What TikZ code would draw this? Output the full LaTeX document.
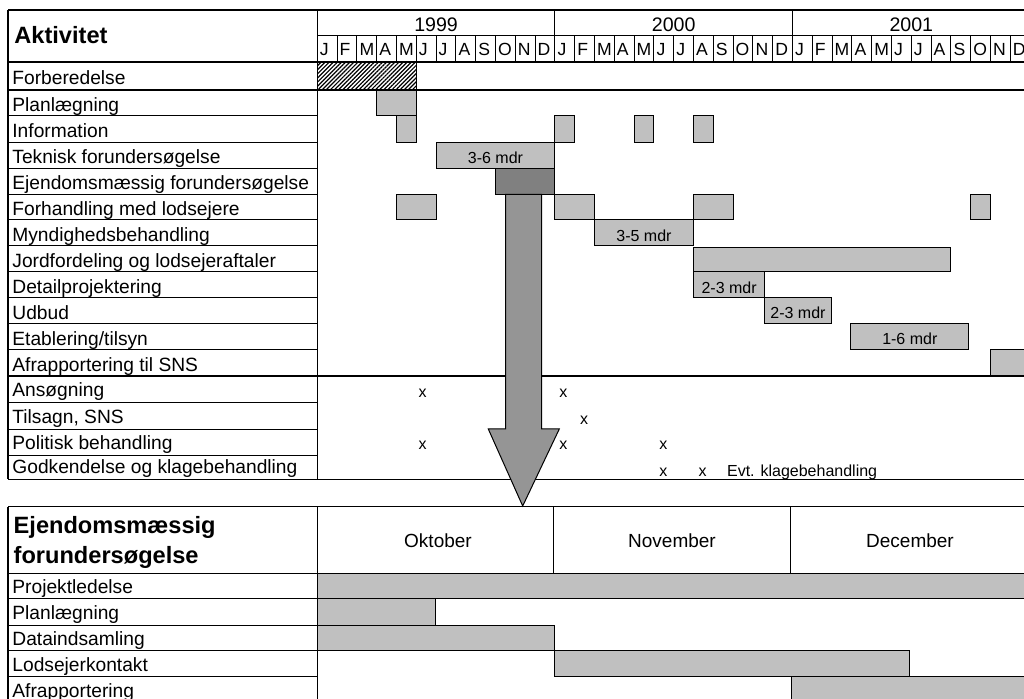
\documentclass[tikz,border=0pt]{standalone}
\usepackage{fontspec}
\setmainfont{Liberation Sans}
\usetikzlibrary{patterns.meta}
\definecolor{ganttbar}{HTML}{C0C0C0}
\definecolor{ganttdark}{HTML}{808080}
\definecolor{ganttarrow}{HTML}{959595}
\tikzset{
  px/.style     ={x=0.5pt, y=-0.5pt},
  rule/.style   ={line width=0.5pt},
  heavy/.style  ={line width=1pt},
  lbl/.style    ={anchor=base west, inner sep=0pt, font=\fontsize{9.6}{11}\selectfont},
  head/.style   ={anchor=base west, inner sep=0pt, font=\fontsize{11.8}{14}\selectfont\bfseries},
  yearlbl/.style={anchor=base, inner sep=0pt, font=\fontsize{9.8}{11}\selectfont},
  mon/.style    ={anchor=base west, inner sep=0pt, font=\fontsize{8.8}{10}\selectfont},
  monlbl/.style ={anchor=base, inner sep=0pt, font=\fontsize{9.5}{11}\selectfont},
  gbar/.style   ={draw=black, line width=0.5pt, fill=ganttbar},
  gdark/.style  ={gbar, fill=ganttdark},
  hatch/.style  ={draw=black, line width=0.5pt,
                  pattern={Lines[angle=45, distance=1.45pt, line width=0.6pt]}},
  blbl/.style   ={anchor=base, inner sep=0pt, font=\fontsize{8}{10}\selectfont},
  xmark/.style  ={anchor=base, inner sep=0pt, font=\fontsize{8}{10}\selectfont},
  note/.style   ={anchor=base west, inner sep=0pt, font=\fontsize{8}{10}\selectfont},
  bigarrow/.style={draw=black, line width=0.5pt, fill=ganttarrow},
}
\newcommand{\mx}[1]{317.3+19.8*(#1)}
\newcommand{\hx}[1]{317.3+118.5*(#1)}
\newcommand{\ganttbar}[7][gbar]{%
  \draw[#1] ({#3},#5) rectangle ({#4},#6);%
  \node[blbl] (#2) at ({((#3)+(#4))/2},#6-4.8) {#7};%
}

\begin{document}
\begin{tikzpicture}[px]
  \path[use as bounding box, clip] (0,0) rectangle (1024,699);

  \ganttbar[hatch]{forb}{\mx{0}}{\mx{5}}{62}{90}{}
  \ganttbar{plan}{\mx{3}}{\mx{5}}{90}{116}{}
  \ganttbar{info1}{\mx{4}}{\mx{5}}{116}{142.5}{}
  \ganttbar{info2}{\mx{12}}{\mx{13}}{116}{142.5}{}
  \ganttbar{info3}{\mx{16}}{\mx{17}}{116}{142.5}{}
  \ganttbar{info4}{\mx{19}}{\mx{20}}{116}{142.5}{}
  \ganttbar{tekn}{\mx{6}}{\mx{12}}{142.5}{168.3}{3-6 mdr}
  \ganttbar[gdark]{ejd}{\mx{9}}{\mx{12}}{168.3}{194.3}{}
  \ganttbar{forh1}{\mx{4}}{\mx{6}}{194.3}{220}{}
  \ganttbar{forh2}{\mx{12}}{\mx{14}}{194.3}{220}{}
  \ganttbar{forh3}{\mx{19}}{\mx{21}}{194.3}{220}{}
  \ganttbar{forh4}{\mx{33}}{\mx{34}}{194.3}{220}{}
  \ganttbar{mynd}{\mx{14}}{\mx{19}}{220}{246}{3-5 mdr}
  \ganttbar{jord}{\mx{19}}{\mx{32}}{247.5}{272}{}
  \ganttbar{detail}{\mx{19}}{\mx{22.6}}{272}{298}{2-3 mdr}
  \ganttbar{udbud}{\mx{22.6}}{\mx{25.95}}{298}{323.5}{2-3 mdr}
  \ganttbar{etabl}{\mx{26.95}}{\mx{32.9}}{323.5}{349.5}{1-6 mdr}
  \ganttbar{afrap}{\mx{34}}{\mx{37}}{349.5}{376}{}

  \draw[heavy] (8,10) -- (1030,10);
  \draw[rule] (317.3,36) -- (1030,36);
  \draw[heavy] (8,62) -- (1030,62);
  \draw[heavy] (8,90) -- (1030,90);
  \foreach \y in {116,142.5,168.3,194.3,220,246,272,298,323.5,349.5} {
    \draw[rule] (8,\y) -- (317.3,\y);
  }
  \draw[heavy] (8,376) -- (1030,376);
  \foreach \y in {403,429.5,456} {
    \draw[rule] (8,\y) -- (317.3,\y);
  }
  \draw[rule] (8,479.5) -- (1030,479.5);
  \draw[heavy] (8,10) -- (8,479.5);
  \draw[rule] (317.3,10) -- (317.3,479.5);
  \foreach \m in {1,...,35} {
    \draw[rule] ({\mx{\m}},36) -- ({\mx{\m}},62);
  }
  \foreach \m in {12,24} {
    \draw[rule] ({\mx{\m}},10) -- ({\mx{\m}},36);
  }

  \node[head] (aktivitet) at (14,43.3) {Aktivitet};
  \foreach [count=\i from 0] \yr in {1999,2000,2001} {
    \node[yearlbl] (y\yr) at ({\mx{12*\i+6}},31.5) {\yr};
  }
  \foreach [count=\i from 0] \l in {J,F,M,A,M,J,J,A,S,O,N,D,J,F,M,A,M,J,J,A,S,O,N,D,J,F,M,A,M,J,J,A,S,O,N,D} {
    \node[mon] (m\i) at ({\mx{\i}+2.2},56) {\l};
  }

  \node[lbl] (forbl) at (12,85) {Forberedelse};
  \foreach [count=\i from 0] \t in {Planlægning,Information,Teknisk forundersøgelse,
      Ejendomsmæssig forundersøgelse,Forhandling med lodsejere,Myndighedsbehandling,
      Jordfordeling og lodsejeraftaler,Detailprojektering,Udbud,Etablering/tilsyn,
      Afrapportering til SNS} {
    \node[lbl] (act\i) at (12,{116+26*\i-4.7}) {\t};
  }
  \foreach [count=\i] \t/\yb in {Ansøgning/403,{Tilsagn, SNS}/429.5,
      Politisk behandling/456,Godkendelse og klagebehandling/479.5} {
    \node[lbl] (dec\i) at (12,\yb-6) {\t};
  }

  \node[xmark] (x1) at (422.7,398) {x};
  \node[xmark] (x2) at (563.3,398) {x};
  \node[xmark] (x3) at (584,425) {x};
  \node[xmark] (x4) at (422.7,450) {x};
  \node[xmark] (x5) at (563.3,450) {x};
  \node[xmark] (x6) at (663.3,450) {x};
  \node[xmark] (x7) at (663.3,476.5) {x};
  \node[xmark] (x8) at (702.7,476.5) {x};
  \node[note] (evt) at (726.7,476.5) {Evt. klagebehandling};

  \ganttbar{proj}{\hx{0}}{\hx{6.2}}{573.3}{599}{}
  \ganttbar{plan2}{\hx{0}}{\hx{1}}{599}{625.7}{}
  \ganttbar{data}{\hx{0}}{\hx{2}}{625.7}{650.7}{}
  \ganttbar{lods}{\hx{2}}{\hx{5}}{650.7}{676.7}{}
  \ganttbar{afr2}{\hx{4}}{\hx{6.2}}{676.7}{702.7}{}

  \draw[rule] (8,506.7) -- (1030,506.7);
  \draw[rule] (8,573.3) -- (1030,573.3);
  \foreach \y in {599,625.7,650.7,676.7} {
    \draw[rule] (8,\y) -- (317.3,\y);
  }
  \draw[heavy] (8,506.7) -- (8,710);
  \draw[rule] (317.3,506.7) -- (317.3,710);
  \foreach \x in {553.3,790.7} {
    \draw[rule] (\x,506.7) -- (\x,573.3);
  }

  \node[head] (ejdhead) at (13.3,533.3) {Ejendomsmæssig};
  \node[head] (ejdhead2) at (13.3,563.3) {forundersøgelse};
  \node[monlbl] (okt) at (438,548) {Oktober};
  \node[monlbl] (nov) at (672,548) {November};
  \node[monlbl] (dec) at (910,548) {December};
  \foreach [count=\i from 0] \t in {Projektledelse,Planlægning,Dataindsamling,
      Lodsejerkontakt,Afrapportering} {
    \node[lbl] (sub\i) at (12,{599+25.9*\i-5.5}) {\t};
  }

  \draw[bigarrow] (505.7,194.3) -- (505.7,429) -- (488.3,429) -- (522.7,506)
    -- (559.3,429) -- (541.7,429) -- (541.7,194.3) -- cycle;
\end{tikzpicture}
\end{document}
